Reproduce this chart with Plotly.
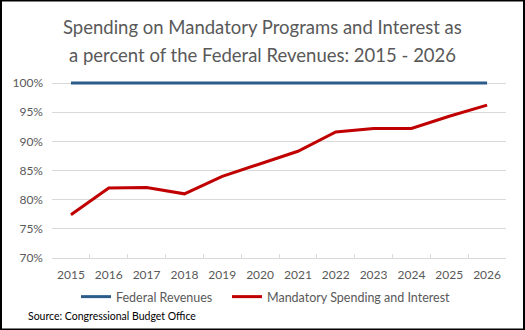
import plotly.graph_objects as go

years = [str(y) for y in range(2015, 2027)]
federal_revenues = [100] * 12
mandatory_spending = [77.4, 82.0, 82.1, 81.0, 84.0, 86.2, 88.3, 91.6, 92.2, 92.2, 94.3, 96.2]
y_ticks = [70, 75, 80, 85, 90, 95, 100]
y_tick_labels = [f"{v}%" for v in y_ticks]

W, H = 525, 330
ML, MR, MT, MB = 52, 19, 80, 72
PW, PH = W - ML - MR, H - MT - MB
Y_MIN, Y_MAX_GRID = 70, 100
GRID_PX = 175  # pixels from 70% to 100%
y_top = Y_MIN + (Y_MAX_GRID - Y_MIN) * PH / GRID_PX

def px_x(p):
    return (p - ML) / PW

def px_y(p):
    return (H - MB - p) / PH

FONT = "Lato"
GREY = "#595959"

fig = go.Figure()
fig.add_trace(go.Scatter(x=years, y=federal_revenues, mode="lines", name="Federal Revenues",
                         line=dict(color="#2c5d8a", width=3), legend="legend"))
fig.add_trace(go.Scatter(x=years, y=mandatory_spending, mode="lines", name="Mandatory Spending and Interest",
                         line=dict(color="#c00000", width=3), legend="legend2"))

legend_common = dict(orientation="h", xref="paper", yref="paper", y=px_y(297),
                     xanchor="left", yanchor="middle", font=dict(size=12.5, color=GREY),
                     bgcolor="rgba(0,0,0,0)")

fig.update_layout(
    width=W, height=H,
    margin=dict(l=ML, r=MR, t=MT, b=MB),
    paper_bgcolor="white", plot_bgcolor="white",
    font=dict(family=FONT, color=GREY, size=12),
    showlegend=True,
    legend=dict(x=px_x(76), **legend_common),
    legend2=dict(x=px_x(227), **legend_common),
    xaxis=dict(type="category", range=[-0.5, len(years) - 0.5], showgrid=False, showline=True,
               linecolor="#d9d9d9", linewidth=1,
               ticks="inside", tickson="boundaries", ticklen=4, tickcolor="#d9d9d9",
               tickfont=dict(size=12, color=GREY), ticklabelstandoff=6, fixedrange=True),
    yaxis=dict(range=[Y_MIN, y_top], tickvals=y_ticks, ticktext=y_tick_labels, showgrid=True,
               gridcolor="#d9d9d9", gridwidth=1, zeroline=False, showline=False,
               tickfont=dict(size=12, color=GREY), ticklabelstandoff=8, fixedrange=True),
    annotations=[
        dict(text="Spending on Mandatory Programs and Interest as", xref="paper", yref="paper",
             x=px_x(W / 2), y=px_y(27), xanchor="center", yanchor="middle", showarrow=False,
             font=dict(size=18.5, color=GREY, family=FONT)),
        dict(text="a percent of the Federal Revenues: 2015 - 2026", xref="paper", yref="paper",
             x=px_x(W / 2), y=px_y(55), xanchor="center", yanchor="middle", showarrow=False,
             font=dict(size=18.5, color=GREY, family=FONT)),
        dict(text="Source: Congressional Budget Office", xref="paper", yref="paper",
             x=px_x(26), y=px_y(316), xanchor="left", yanchor="middle", showarrow=False,
             font=dict(size=10.5, color="#000000", family=FONT)),
    ],
    shapes=[
        dict(type="rect", xref="paper", yref="paper", x0=px_x(1), x1=px_x(W - 1),
             y0=px_y(H - 0.5), y1=px_y(0.5), line=dict(color="black", width=2), layer="above"),
    ],
)

fig.write_html("out.html")
